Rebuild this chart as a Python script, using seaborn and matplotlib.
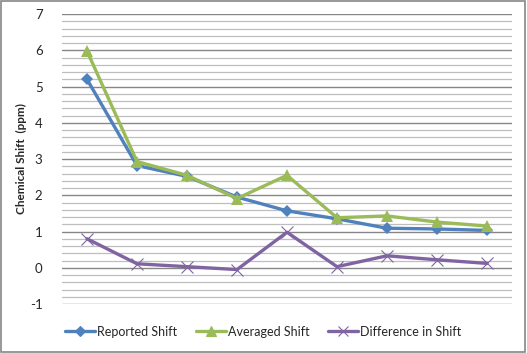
import matplotlib
matplotlib.use("Agg")
import matplotlib.pyplot as plt
import numpy as np
import pandas as pd
import seaborn as sns
from matplotlib.ticker import MultipleLocator

sns.set_theme(style="white")
plt.rcParams['font.family'] = ['Lato', 'DejaVu Sans']
plt.rcParams['axes.unicode_minus'] = False

# values
samples = list(range(1, 10))
reported = [5.20, 2.82, 2.52, 1.95, 1.57, 1.35, 1.09, 1.07, 1.03]
averaged = [5.98, 2.93, 2.55, 1.91, 2.55, 1.38, 1.43, 1.26, 1.15]
difference = [0.80, 0.11, 0.03, -0.05, 0.98, 0.03, 0.33, 0.22, 0.12]
series_names = ["Reported Shift", "Averaged Shift", "Difference in Shift"]

df = pd.DataFrame({
    "sample": samples * 3,
    "shift": reported + averaged + difference,
    "series": np.repeat(series_names, len(samples)),
})

colors = {"Reported Shift": "#4F81BD", "Averaged Shift": "#9BBB59",
          "Difference in Shift": "#8064A2"}
markers = {"Reported Shift": "D", "Averaged Shift": "^", "Difference in Shift": "x"}
msize = {"Reported Shift": 6, "Averaged Shift": 8, "Difference in Shift": 8}

fig = plt.figure(figsize=(5.27, 3.53), dpi=100)
ax = fig.add_axes([0.1176, 0.1388, 0.8539, 0.8215])

for name in series_names:
    sub = df[df["series"] == name]
    sns.lineplot(data=sub, x="sample", y="shift", color=colors[name],
                 marker=markers[name], markersize=msize[name],
                 markeredgewidth=0.8 if markers[name] == "x" else 0,
                 markeredgecolor=colors[name],
                 linewidth=2.4, ax=ax, label=name, legend=False)

ax.set_xlim(0.5, 9.5)
ax.set_ylim(-1, 7)
ax.yaxis.set_major_locator(MultipleLocator(1))
ax.yaxis.set_minor_locator(MultipleLocator(0.2))
ax.grid(which="major", axis="y", color="#868686", linewidth=1.0)
ax.grid(which="minor", axis="y", color="#BEBEBE", linewidth=0.9)
ax.set_axisbelow(True)
ax.set_xticks([])
ax.set_xlabel("")
ax.set_ylabel("Chemical Shift  (ppm)", fontsize=8.5, fontweight="bold")
ax.yaxis.set_label_coords(-0.078, 0.5)
ax.tick_params(axis="y", which="both", length=0, labelsize=9.5, pad=14)
for s in ax.spines.values():
    s.set_visible(False)

handles = [plt.Line2D([], [], color=colors[n], marker=markers[n], linewidth=2.4,
                      markersize=msize[n] - 1, markeredgewidth=0.8,
                      markeredgecolor=colors[n]) for n in series_names]
fig.legend(handles, series_names, loc="center", bbox_to_anchor=(0.5, 0.06),
           ncol=3, frameon=False, fontsize=9, handlelength=2.4,
           handletextpad=0.15, columnspacing=1.5)

fig.patches.append(plt.Rectangle((0.002, 0.003), 0.995, 0.994, transform=fig.transFigure,
                                 fill=False, edgecolor="#868686", linewidth=1.2))

fig.savefig("out.png", dpi=100)
